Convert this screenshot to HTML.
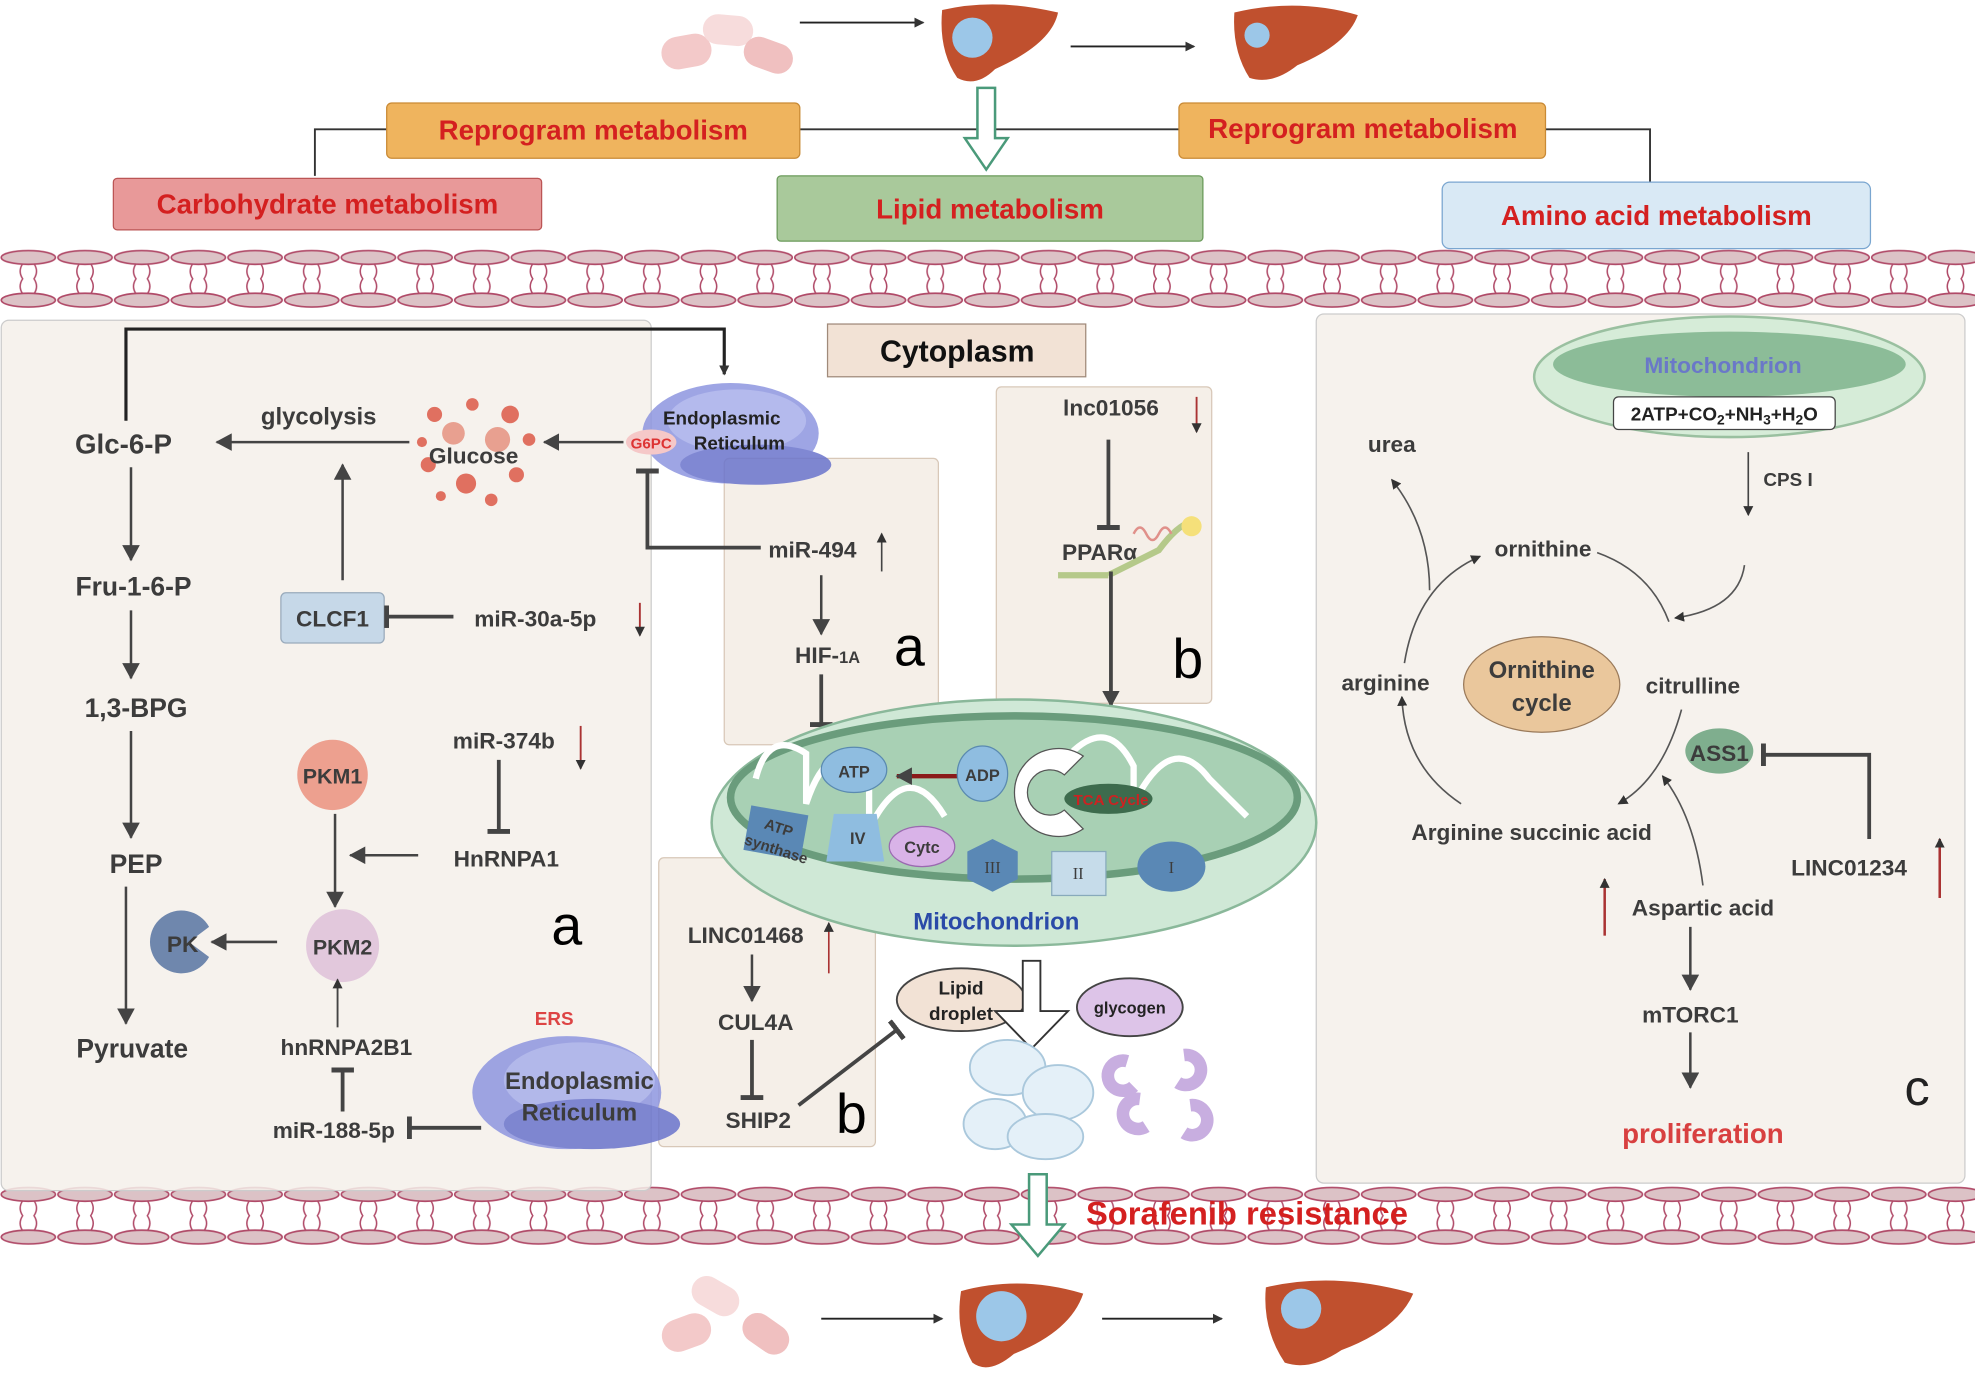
<!DOCTYPE html>
<html><head><meta charset="utf-8"><style>
html,body{margin:0;padding:0;background:#fff}
svg{display:block}
text{font-family:"Liberation Sans",sans-serif;font-weight:bold;fill:#3c3c3c}
</style></head><body>
<svg width="1975" height="1379" viewBox="0 0 1568 1098" preserveAspectRatio="none" xmlns="http://www.w3.org/2000/svg">
<defs>
<marker id="ar" markerWidth="8" markerHeight="8" refX="7" refY="4" orient="auto" markerUnits="userSpaceOnUse"><path d="M0,0 L8,4 L0,8 z" fill="#333"/></marker>
<marker id="arT" markerWidth="14" markerHeight="14" refX="12" refY="7" orient="auto" markerUnits="userSpaceOnUse"><path d="M0,0 L13,7 L0,14 z" fill="#444"/></marker>
<marker id="tb" markerWidth="4" markerHeight="18" refX="2" refY="9" orient="auto" markerUnits="userSpaceOnUse"><rect x="0" y="0" width="4" height="18" fill="#444"/></marker>
<pattern id="mem" x="0" y="198" width="45" height="48" patternUnits="userSpaceOnUse">
<ellipse cx="22.5" cy="7" rx="21.5" ry="5.5" fill="#dcc2c6" stroke="#b04a68" stroke-width="1.3"/>
<ellipse cx="22.5" cy="41" rx="21.5" ry="5.5" fill="#dcc2c6" stroke="#b04a68" stroke-width="1.3"/>
<path d="M18,12 Q14,18 18,24 Q14,30 18,36 M27,12 Q31,18 27,24 Q31,30 27,36" stroke="#b04a68" stroke-width="1.2" fill="none"/>
</pattern>
<pattern id="mem2" x="0" y="944" width="45" height="48" patternUnits="userSpaceOnUse">
<ellipse cx="22.5" cy="7" rx="21.5" ry="5.5" fill="#dcc2c6" stroke="#b04a68" stroke-width="1.3"/>
<ellipse cx="22.5" cy="41" rx="21.5" ry="5.5" fill="#dcc2c6" stroke="#b04a68" stroke-width="1.3"/>
<path d="M18,12 Q14,18 18,24 Q14,30 18,36 M27,12 Q31,18 27,24 Q31,30 27,36" stroke="#b04a68" stroke-width="1.2" fill="none"/>
</pattern>
</defs>

<g>
<rect x="525" y="28" width="40" height="26" rx="13" fill="#f3c9c9" transform="rotate(-10 545 41)"/>
<rect x="558" y="12" width="40" height="24" rx="12" fill="#f7dcdc" transform="rotate(5 578 24)"/>
<rect x="590" y="32" width="40" height="24" rx="12" fill="#f0c0c0" transform="rotate(20 610 44)"/>
<line x1="635" y1="18" x2="733" y2="18" stroke="#222" stroke-width="1.5" marker-end="url(#ar)"/>
<path d="M748,8 Q790,-2 840,10 Q835,35 790,55 Q775,70 760,62 Q745,40 748,8z" fill="#c0502e"/>
<circle cx="772" cy="30" r="16" fill="#9cc7e8"/>
<line x1="850" y1="37" x2="948" y2="37" stroke="#222" stroke-width="1.5" marker-end="url(#ar)"/>
<path d="M980,10 Q1030,-2 1078,12 Q1070,35 1030,52 Q1010,68 992,62 Q978,40 980,10z" fill="#c0502e"/>
<circle cx="998" cy="28" r="10" fill="#9cc7e8"/>
</g>

<polyline points="250,140 250,103 307,103" fill="none" stroke="#333" stroke-width="1.5"/>
<line x1="635" y1="103" x2="936" y2="103" stroke="#333" stroke-width="1.5"/>
<polyline points="1227,103 1310,103 1310,145" fill="none" stroke="#333" stroke-width="1.5"/>
<path d="M776,70 h14 v40 h10 l-17,25 l-17,-25 h10z" fill="#fff" stroke="#4a9a7a" stroke-width="2"/>

<rect x="307" y="82" width="328" height="44" rx="4" fill="#efb45e" stroke="#c98a35"/>
<text x="471" y="111" font-size="22" text-anchor="middle" style="fill:#d42020">Reprogram metabolism</text>
<rect x="936" y="82" width="291" height="44" rx="4" fill="#efb45e" stroke="#c98a35"/>
<text x="1082" y="110" font-size="22" text-anchor="middle" style="fill:#d42020">Reprogram metabolism</text>
<rect x="90" y="142" width="340" height="41" rx="3" fill="#e89999" stroke="#b55"/>
<text x="260" y="170" font-size="22" text-anchor="middle" style="fill:#d42020">Carbohydrate metabolism</text>
<rect x="617" y="140" width="338" height="52" rx="3" fill="#a9c99b" stroke="#6a9a5a"/>
<text x="786" y="174" font-size="22" text-anchor="middle" style="fill:#d42020">Lipid metabolism</text>
<rect x="1145" y="145" width="340" height="53" rx="6" fill="#d9e9f5" stroke="#7aa6d0"/>
<text x="1315" y="179" font-size="22" text-anchor="middle" style="fill:#d42020">Amino acid metabolism</text>

<rect x="0" y="198" width="1568" height="48" fill="url(#mem)"/>
<rect x="0" y="944" width="1568" height="48" fill="url(#mem2)"/>

<rect x="1" y="255" width="516" height="693" rx="6" fill="#f5f0ea" fill-opacity="0.85" stroke="#ccc"/>
<rect x="1045" y="250" width="515" height="692" rx="6" fill="#f5f0ea" fill-opacity="0.85" stroke="#ccc"/>
<rect x="657" y="258" width="205" height="42" fill="#f2e2d5" stroke="#a08a7a"/>
<text x="760" y="288" font-size="24" text-anchor="middle" style="fill:#111">Cytoplasm</text>

<rect x="575" y="365" width="170" height="228" rx="4" fill="#f5efe8" stroke="#d8c8b8"/>
<rect x="791" y="308" width="171" height="252" rx="4" fill="#f5efe8" stroke="#d8c8b8"/>
<rect x="523" y="683" width="172" height="230" rx="4" fill="#f5efe8" stroke="#d8c8b8"/>

<polyline points="100,335 100,262 575,262 575,298" fill="none" stroke="#222" stroke-width="2.5" marker-end="url(#ar)"/>
<text x="98" y="361" font-size="22" text-anchor="middle">Glc-6-P</text>
<line x1="104" y1="372" x2="104" y2="446" stroke="#444" stroke-width="2" marker-end="url(#arT)"/>
<text x="106" y="474" font-size="21" text-anchor="middle">Fru-1-6-P</text>
<line x1="104" y1="486" x2="104" y2="540" stroke="#444" stroke-width="2" marker-end="url(#arT)"/>
<text x="108" y="571" font-size="21" text-anchor="middle">1,3-BPG</text>
<line x1="104" y1="582" x2="104" y2="667" stroke="#444" stroke-width="2" marker-end="url(#arT)"/>
<text x="108" y="695" font-size="21" text-anchor="middle">PEP</text>
<line x1="100" y1="706" x2="100" y2="815" stroke="#444" stroke-width="2" marker-end="url(#arT)"/>
<text x="105" y="842" font-size="21" text-anchor="middle">Pyruvate</text>
<text x="253" y="338" font-size="19" text-anchor="middle">glycolysis</text>
<line x1="325" y1="352" x2="172" y2="352" stroke="#444" stroke-width="2" marker-end="url(#arT)"/>
<g fill="#e07060">
<circle cx="345" cy="330" r="6"/><circle cx="375" cy="322" r="5"/><circle cx="405" cy="330" r="7"/><circle cx="360" cy="345" r="9" fill="#e8a090"/>
<circle cx="395" cy="350" r="10" fill="#e8a090"/><circle cx="340" cy="370" r="6"/><circle cx="370" cy="385" r="8"/><circle cx="410" cy="378" r="6"/>
<circle cx="420" cy="350" r="5"/><circle cx="350" cy="395" r="4"/><circle cx="390" cy="398" r="5"/><circle cx="335" cy="352" r="4"/>
</g>
<text x="376" y="369" font-size="18" text-anchor="middle">Glucose</text>
<line x1="495" y1="352" x2="432" y2="352" stroke="#444" stroke-width="2" marker-end="url(#arT)"/>
<line x1="272" y1="462" x2="272" y2="370" stroke="#444" stroke-width="2" marker-end="url(#arT)"/>
<rect x="223" y="472" width="82" height="40" rx="4" fill="#c6d8e8" stroke="#9ab"/>
<text x="264" y="499" font-size="18" text-anchor="middle">CLCF1</text>
<line x1="360" y1="491" x2="307" y2="491" stroke="#444" stroke-width="3" marker-end="url(#tb)"/>
<text x="425" y="499" font-size="18" text-anchor="middle">miR-30a-5p</text>
<line x1="508" y1="480" x2="508" y2="506" stroke="#a33" stroke-width="1.5" marker-end="url(#ar)"/>
<text x="400" y="596" font-size="18" text-anchor="middle">miR-374b</text>
<line x1="461" y1="578" x2="461" y2="612" stroke="#a33" stroke-width="1.5" marker-end="url(#ar)"/>
<line x1="396" y1="605" x2="396" y2="662" stroke="#444" stroke-width="3" marker-end="url(#tb)"/>
<text x="402" y="690" font-size="18" text-anchor="middle">HnRNPA1</text>
<line x1="332" y1="681" x2="278" y2="681" stroke="#444" stroke-width="2" marker-end="url(#arT)"/>
<circle cx="264" cy="617" r="28" fill="#eda08f"/>
<text x="264" y="624" font-size="17" text-anchor="middle">PKM1</text>
<line x1="266" y1="648" x2="266" y2="722" stroke="#444" stroke-width="2" marker-end="url(#arT)"/>
<circle cx="272" cy="753" r="29" fill="#e2c8dc"/>
<text x="272" y="760" font-size="17" text-anchor="middle">PKM2</text>
<line x1="220" y1="750" x2="168" y2="750" stroke="#444" stroke-width="2" marker-end="url(#arT)"/>
<path d="M166,738 A25,25 0 1 0 166,762 L150,750z" fill="#6f87ad"/>
<text x="145" y="758" font-size="18" text-anchor="middle">PK</text>
<text x="450" y="752" font-size="44" text-anchor="middle" style="fill:#000;font-weight:normal">a</text>
<line x1="268" y1="818" x2="268" y2="780" stroke="#444" stroke-width="1.5" marker-end="url(#ar)"/>
<text x="275" y="840" font-size="18" text-anchor="middle">hnRNPA2B1</text>
<line x1="272" y1="885" x2="272" y2="852" stroke="#444" stroke-width="3" marker-end="url(#tb)"/>
<text x="265" y="906" font-size="18" text-anchor="middle">miR-188-5p</text>
<line x1="382" y1="898" x2="325" y2="898" stroke="#444" stroke-width="3" marker-end="url(#tb)"/>
<text x="440" y="816" font-size="15" text-anchor="middle" style="fill:#d44">ERS</text>
<g opacity="0.85">
<ellipse cx="450" cy="870" rx="75" ry="45" fill="#8e96e0"/>
<ellipse cx="460" cy="860" rx="60" ry="30" fill="#a7aeea"/>
<ellipse cx="470" cy="895" rx="70" ry="20" fill="#6a74cc"/>
</g>
<text x="460" y="867" font-size="19" text-anchor="middle">Endoplasmic</text>
<text x="460" y="892" font-size="19" text-anchor="middle">Reticulum</text>
<g opacity="0.85">
<ellipse cx="580" cy="345" rx="70" ry="40" fill="#8e96e0"/>
<ellipse cx="585" cy="335" rx="55" ry="25" fill="#a7aeea"/>
<ellipse cx="600" cy="370" rx="60" ry="16" fill="#6a74cc"/>
</g>
<text x="573" y="338" font-size="15" text-anchor="middle" style="fill:#222">Endoplasmic</text>
<text x="587" y="358" font-size="15" text-anchor="middle" style="fill:#222">Reticulum</text>
<ellipse cx="517" cy="352" rx="20" ry="10" fill="#f5c8c8"/>
<text x="517" y="357" font-size="12" text-anchor="middle" style="fill:#d33">G6PC</text>

<polyline points="604,436 514,436 514,375" fill="none" stroke="#444" stroke-width="3" marker-end="url(#tb)"/>
<text x="645" y="444" font-size="18" text-anchor="middle">miR-494</text>
<line x1="700" y1="455" x2="700" y2="425" stroke="#444" stroke-width="1.3" marker-end="url(#ar)"/>
<line x1="652" y1="458" x2="652" y2="505" stroke="#444" stroke-width="2" marker-end="url(#arT)"/>
<text x="657" y="528" font-size="18" text-anchor="middle">HIF-<tspan font-size="13">1A</tspan></text>
<text x="722" y="530" font-size="44" style="fill:#000;font-weight:normal" text-anchor="middle">a</text>
<line x1="652" y1="537" x2="652" y2="577" stroke="#444" stroke-width="3" marker-end="url(#tb)"/>

<text x="882" y="331" font-size="18" text-anchor="middle">lnc01056</text>
<line x1="950" y1="316" x2="950" y2="344" stroke="#a33" stroke-width="1.5" marker-end="url(#ar)"/>
<line x1="880" y1="350" x2="880" y2="420" stroke="#444" stroke-width="3" marker-end="url(#tb)"/>
<text x="873" y="446" font-size="18" text-anchor="middle">PPARα</text>
<path d="M840,458 h40 M880,458 q20,-10 40,-20 q15,-20 25,-22" stroke="#b5c98a" stroke-width="5" fill="none"/>
<circle cx="946" cy="419" r="8" fill="#f5e07a"/>
<path d="M900,425 q5,-10 10,0 q5,10 10,0 q5,-10 10,0" stroke="#e0908a" stroke-width="2" fill="none"/>
<line x1="882" y1="455" x2="882" y2="562" stroke="#444" stroke-width="3" marker-end="url(#arT)"/>
<text x="943" y="540" font-size="44" style="fill:#000;font-weight:normal" text-anchor="middle">b</text>

<ellipse cx="805" cy="655" rx="240" ry="98" fill="#cfe8d6" stroke="#8ab89a" stroke-width="2"/>
<ellipse cx="805" cy="635" rx="225" ry="65" fill="#a8d0b4" stroke="#6a9c7c" stroke-width="6"/>
<path d="M600,620 q10,-40 40,-20 v40 q20,-60 50,-20 v40 q30,-60 60,-10 M850,600 q30,-30 50,10 v30 q30,-60 60,-20 q20,20 30,30" stroke="#fff" stroke-width="5" fill="none"/>
<ellipse cx="678" cy="613" rx="26" ry="18" fill="#8fbde0" stroke="#5a8ab0"/>
<text x="678" y="619" font-size="13" text-anchor="middle">ATP</text>
<line x1="760" y1="618" x2="712" y2="618" stroke="#8b1a1a" stroke-width="3.5" marker-end="url(#arT)"/>
<ellipse cx="780" cy="616" rx="20" ry="22" fill="#8fbde0" stroke="#5a8ab0"/>
<text x="780" y="622" font-size="13" text-anchor="middle">ADP</text>
<path d="M860,602 A35,35 0 1 0 860,660 L845,645 A18,18 0 1 1 845,617z" fill="#fff" stroke="#555"/>
<ellipse cx="880" cy="636" rx="35" ry="12" fill="#3d6b4d"/>
<text x="882" y="641" font-size="12" text-anchor="middle" style="fill:#c22">TCA Cycle</text>
<rect x="593" y="645" width="46" height="36" fill="#5a88b5" transform="rotate(10 616 663)"/>
<text x="617" y="663" font-size="12" text-anchor="middle" transform="rotate(18 617 663)">ATP</text>
<text x="615" y="680" font-size="12" text-anchor="middle" transform="rotate(18 615 680)">synthase</text>
<path d="M662,648 h34 l6,38 h-46z" fill="#8fbde0"/>
<text x="681" y="672" font-size="13" text-anchor="middle">IV</text>
<ellipse cx="732" cy="674" rx="26" ry="16" fill="#d9b3e8" stroke="#9a6ab0"/>
<text x="732" y="679" font-size="13" text-anchor="middle">Cytc</text>
<polygon points="768,678 788,668 808,678 808,700 788,710 768,700" fill="#5a88b5"/>
<text x="788" y="695" font-size="13" text-anchor="middle" style="font-family:'Liberation Serif';font-weight:normal">III</text>
<rect x="835" y="678" width="43" height="35" fill="#c6dcea" stroke="#8ab"/>
<text x="856" y="700" font-size="13" text-anchor="middle" style="font-family:'Liberation Serif';font-weight:normal">II</text>
<ellipse cx="930" cy="690" rx="27" ry="20" fill="#5a88b5"/>
<text x="930" y="695" font-size="13" text-anchor="middle" style="font-family:'Liberation Serif';font-weight:normal">I</text>
<text x="791" y="740" font-size="19" text-anchor="middle" style="fill:#2a4aa8">Mitochondrion</text>

<text x="592" y="751" font-size="18" text-anchor="middle">LINC01468</text>
<line x1="658" y1="775" x2="658" y2="735" stroke="#a33" stroke-width="1.3" marker-end="url(#ar)"/>
<line x1="597" y1="760" x2="597" y2="797" stroke="#444" stroke-width="2" marker-end="url(#arT)"/>
<text x="600" y="820" font-size="18" text-anchor="middle">CUL4A</text>
<line x1="597" y1="828" x2="597" y2="874" stroke="#444" stroke-width="3" marker-end="url(#tb)"/>
<text x="602" y="898" font-size="18" text-anchor="middle">SHIP2</text>
<line x1="634" y1="880" x2="712" y2="820" stroke="#444" stroke-width="3" marker-end="url(#tb)"/>
<text x="676" y="902" font-size="44" style="fill:#000;font-weight:normal" text-anchor="middle">b</text>

<ellipse cx="763" cy="796" rx="51" ry="25" fill="#f2e2d5" stroke="#444" stroke-width="1.5"/>
<text x="763" y="792" font-size="15" text-anchor="middle" style="fill:#222">Lipid</text>
<text x="763" y="812" font-size="15" text-anchor="middle" style="fill:#222">droplet</text>
<ellipse cx="897" cy="802" rx="42" ry="23" fill="#ddc4e8" stroke="#444" stroke-width="1.5"/>
<text x="897" y="807" font-size="13" text-anchor="middle" style="fill:#222">glycogen</text>
<path d="M812,765 h14 v40 h22 l-29,30 l-29,-30 h22z" fill="#fff" stroke="#333" stroke-width="1.5"/>
<g fill="#e4f0f8" stroke="#aac8dc" stroke-width="1.5">
<ellipse cx="800" cy="850" rx="30" ry="22"/><ellipse cx="840" cy="870" rx="28" ry="22"/><ellipse cx="790" cy="895" rx="25" ry="20"/><ellipse cx="830" cy="905" rx="30" ry="18"/>
</g>
<g fill="none" stroke="#c8aee0" stroke-width="10">
<path d="M895,845 a12,12 0 1 0 5,20"/><path d="M940,840 a12,12 0 1 1 -5,22"/><path d="M905,875 a12,12 0 1 0 5,22"/><path d="M945,880 a12,12 0 1 1 -5,22"/>
</g>
<path d="M817,935 h14 v40 h14 l-21,25 l-21,-25 h14z" fill="#fff" stroke="#4a9a7a" stroke-width="2"/>
<text x="990" y="975" font-size="26" text-anchor="middle" style="fill:#d42020">Sorafenib resistance</text>

<rect x="525" y="1048" width="40" height="26" rx="13" fill="#f3c9c9" transform="rotate(-20 545 1061)"/>
<rect x="548" y="1020" width="40" height="24" rx="12" fill="#f7dcdc" transform="rotate(30 568 1032)"/>
<rect x="588" y="1050" width="40" height="24" rx="12" fill="#f0c0c0" transform="rotate(35 608 1062)"/>
<line x1="652" y1="1050" x2="748" y2="1050" stroke="#222" stroke-width="1.5" marker-end="url(#ar)"/>
<path d="M763,1028 Q810,1015 860,1030 Q850,1060 805,1078 Q785,1095 772,1085 Q758,1060 763,1028z" fill="#c0502e"/>
<circle cx="795" cy="1048" r="20" fill="#9cc7e8"/>
<line x1="875" y1="1050" x2="970" y2="1050" stroke="#222" stroke-width="1.5" marker-end="url(#ar)"/>
<path d="M1005,1025 Q1060,1012 1122,1030 Q1110,1058 1065,1075 Q1040,1092 1020,1085 Q1002,1058 1005,1025z" fill="#c0502e"/>
<circle cx="1033" cy="1042" r="16" fill="#9cc7e8"/>

<ellipse cx="1373" cy="300" rx="155" ry="48" fill="#d6ecd8" stroke="#9ac0a0" stroke-width="2"/>
<ellipse cx="1373" cy="290" rx="140" ry="26" fill="#8cbc98"/>
<text x="1368" y="297" font-size="18" text-anchor="middle" style="fill:#6a78c8">Mitochondrion</text>
<rect x="1281" y="316" width="176" height="26" rx="4" fill="#fff" stroke="#444"/>
<text x="1369" y="335" font-size="15" text-anchor="middle" style="fill:#222">2ATP+CO<tspan font-size="11" dy="3">2</tspan><tspan dy="-3">+NH</tspan><tspan font-size="11" dy="3">3</tspan><tspan dy="-3">+H</tspan><tspan font-size="11" dy="3">2</tspan><tspan dy="-3">O</tspan></text>
<line x1="1388" y1="360" x2="1388" y2="410" stroke="#444" stroke-width="1.3" marker-end="url(#ar)"/>
<text x="1400" y="387" font-size="15">CPS I</text>
<text x="1105" y="360" font-size="18" text-anchor="middle">urea</text>
<path d="M1135,470 Q1135,420 1105,382" stroke="#555" stroke-width="1.3" fill="none" marker-end="url(#ar)"/>
<text x="1225" y="443" font-size="18" text-anchor="middle">ornithine</text>
<path d="M1385,450 Q1380,485 1330,492" stroke="#555" stroke-width="1.3" fill="none" marker-end="url(#ar)"/>
<path d="M1268,440 Q1310,455 1325,495" stroke="#555" stroke-width="1.3" fill="none"/>
<path d="M1115,528 Q1125,465 1175,443" stroke="#555" stroke-width="1.3" fill="none" marker-end="url(#ar)"/>
<ellipse cx="1224" cy="545" rx="62" ry="38" fill="#eac79c" stroke="#9a7a5a"/>
<text x="1224" y="540" font-size="19" text-anchor="middle">Ornithine</text>
<text x="1224" y="566" font-size="19" text-anchor="middle">cycle</text>
<text x="1100" y="550" font-size="18" text-anchor="middle">arginine</text>
<text x="1344" y="552" font-size="18" text-anchor="middle">citrulline</text>
<path d="M1160,640 Q1115,610 1113,555" stroke="#555" stroke-width="1.3" fill="none" marker-end="url(#ar)"/>
<path d="M1335,565 Q1320,620 1285,640" stroke="#555" stroke-width="1.3" fill="none" marker-end="url(#ar)"/>
<ellipse cx="1365" cy="598" rx="27" ry="18" fill="#7fae8e"/>
<text x="1365" y="606" font-size="18" text-anchor="middle">ASS1</text>
<polyline points="1484,668 1484,601 1400,601" fill="none" stroke="#444" stroke-width="3" marker-end="url(#tb)"/>
<text x="1216" y="669" font-size="18" text-anchor="middle">Arginine succinic acid</text>
<text x="1468" y="697" font-size="18" text-anchor="middle">LINC01234</text>
<line x1="1540" y1="715" x2="1540" y2="668" stroke="#a33" stroke-width="2" marker-end="url(#ar)"/>
<path d="M1352,705 Q1345,650 1320,618" stroke="#555" stroke-width="1.3" fill="none" marker-end="url(#ar)"/>
<line x1="1274" y1="745" x2="1274" y2="700" stroke="#a33" stroke-width="2" marker-end="url(#ar)"/>
<text x="1352" y="729" font-size="18" text-anchor="middle">Aspartic acid</text>
<line x1="1342" y1="738" x2="1342" y2="788" stroke="#444" stroke-width="2" marker-end="url(#arT)"/>
<text x="1342" y="814" font-size="18" text-anchor="middle">mTORC1</text>
<line x1="1342" y1="822" x2="1342" y2="866" stroke="#444" stroke-width="2" marker-end="url(#arT)"/>
<text x="1352" y="910" font-size="22" text-anchor="middle" style="fill:#d84040">proliferation</text>
<text x="1522" y="880" font-size="40" text-anchor="middle" style="fill:#222;font-weight:normal">c</text>
</svg>
</body></html>
